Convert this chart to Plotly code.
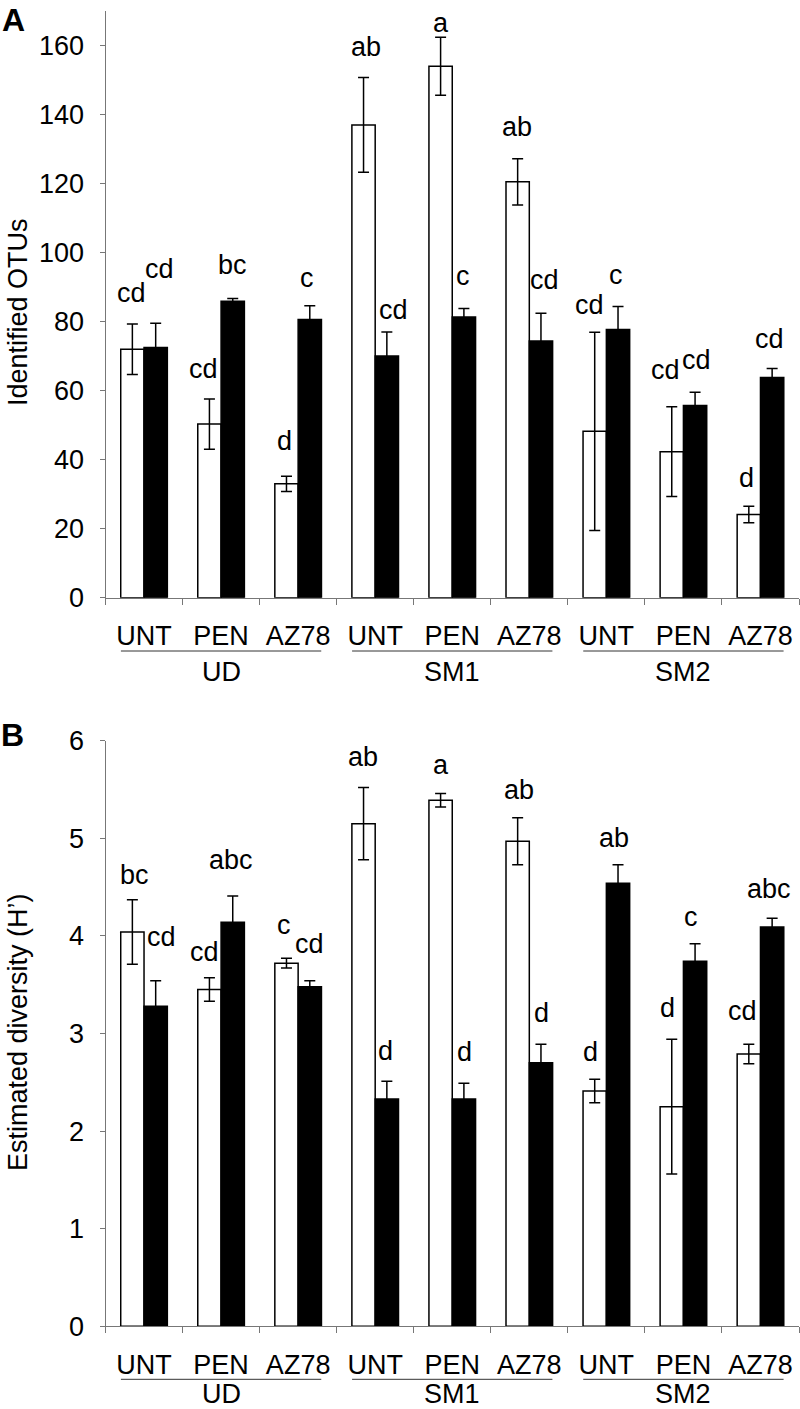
import plotly.graph_objects as go

# ---------------- data ----------------
treatments = ["UNT", "PEN", "AZ78", "UNT", "PEN", "AZ78", "UNT", "PEN", "AZ78"]
groups = ["UD", "SM1", "SM2"]

otus_white = [72.0, 50.3, 33.0, 137.0, 154.0, 120.5, 48.2, 42.3, 24.1]
otus_white_err = [7.3, 7.3, 2.2, 13.7, 8.4, 6.7, 28.7, 13.0, 2.4]
otus_black = [72.5, 85.9, 80.6, 70.0, 81.3, 74.4, 77.7, 55.7, 63.8]
otus_black_err = [7.0, 0.8, 4.0, 7.0, 2.5, 8.0, 6.7, 3.8, 2.6]

shannon_white = [4.04, 3.45, 3.72, 5.15, 5.39, 4.97, 2.41, 2.25, 2.79]
shannon_white_err = [0.33, 0.12, 0.05, 0.37, 0.07, 0.24, 0.12, 0.69, 0.10]
shannon_black = [3.28, 4.14, 3.48, 2.33, 2.33, 2.70, 4.54, 3.74, 4.09]
shannon_black_err = [0.26, 0.27, 0.06, 0.18, 0.16, 0.19, 0.19, 0.18, 0.09]

otus_letters_white = ["cd", "cd", "d", "ab", "a", "ab", "cd", "cd", "d"]
otus_letters_black = ["cd", "bc", "c", "cd", "c", "cd", "c", "cd", "cd"]
shannon_letters_white = ["bc", "cd", "c", "ab", "a", "ab", "d", "d", "cd"]
shannon_letters_black = ["cd", "abc", "cd", "d", "d", "d", "ab", "c", "abc"]

# ---------------- layout helpers (positions only) ----------------
xs = list(range(len(treatments)))
FONT = "Liberation Sans, Arial, Helvetica, sans-serif"
FS = 27

otus_lw_pos = ([-0.158, 0.771, 1.818, 2.877, 3.850, 4.836, 5.787, 6.768, 7.819],
               [88.2, 66.2, 45.4, 159.5, 166.5, 136.5, 84.7, 65.9, 34.6])
otus_lb_pos = ([0.200, 1.147, 2.120, 3.232, 4.143, 5.203, 6.124, 7.171, 8.121],
               [95.1, 96.5, 92.6, 83.3, 93.1, 92.0, 93.4, 68.8, 75.1])
sh_lw_pos = ([-0.124, 0.780, 1.818, 2.838, 3.850, 4.866, 5.800, 6.794, 7.762],
             [4.62, 3.83, 4.11, 5.83, 5.75, 5.50, 2.81, 3.26, 3.23])
sh_lb_pos = ([0.231, 1.126, 2.146, 3.137, 4.156, 5.160, 6.102, 7.097, 8.112],
             [3.99, 4.78, 3.92, 2.82, 2.81, 3.21, 5.00, 4.19, 4.48])

W, H = 800, 1409


def px(xp):
    return xp / W


def py(yp):
    return 1 - yp / H


x0, x1 = px(105.5), px(799)
domA = [py(597.7), py(11)]
domB = [py(1326.3), py(740.7)]

fig = go.Figure()


def add_pair(white, werr, black, berr, xa, ya):
    fig.add_trace(go.Bar(
        x=xs, y=white, xaxis=xa, yaxis=ya,
        marker=dict(color="white", line=dict(color="black", width=1.5)),
        error_y=dict(type="data", array=werr, color="black", thickness=1.5, width=5.5),
        showlegend=False))
    fig.add_trace(go.Bar(
        x=xs, y=black, xaxis=xa, yaxis=ya,
        marker=dict(color="black", line=dict(color="black", width=1.5)),
        error_y=dict(type="data", array=berr, color="black", thickness=1.5, width=5.5),
        showlegend=False))


add_pair(otus_white, otus_white_err, otus_black, otus_black_err, "x", "y")
add_pair(shannon_white, shannon_white_err, shannon_black, shannon_black_err, "x2", "y2")

boundaries = [i - 0.5 for i in range(len(treatments) + 1)]
xcommon = dict(
    range=[-0.5, len(treatments) - 0.5], tickmode="array", tickvals=xs, ticktext=treatments,
    ticks="", showline=True, linecolor="#777", linewidth=1, showgrid=False, zeroline=False,
    tickfont=dict(family=FONT, size=FS, color="black"), ticklabelstandoff=14,
    minor=dict(tickmode="array", tickvals=boundaries, ticks="outside", ticklen=6,
               tickcolor="#777", tickwidth=1, showgrid=False),
)
ycommon = dict(
    showline=True, linecolor="#777", linewidth=1, showgrid=False, zeroline=False,
    ticks="outside", ticklen=5, tickcolor="#777", tickwidth=1,
    tickfont=dict(family=FONT, size=FS, color="black"), ticklabelstandoff=10,
)

fig.update_layout(
    width=W, height=H, margin=dict(l=0, r=0, t=0, b=0, autoexpand=False),
    paper_bgcolor="white", plot_bgcolor="white",
    barmode="group", bargap=0.395, bargroupgap=0,
    xaxis=dict(domain=[x0, x1], anchor="y", **xcommon),
    yaxis=dict(domain=domA, anchor="x", range=[0, 170], tickvals=[0, 20, 40, 60, 80, 100, 120, 140, 160], **ycommon),
    xaxis2=dict(domain=[x0, x1], anchor="y2", **xcommon),
    yaxis2=dict(domain=domB, anchor="x2", range=[0, 6], tickvals=[0, 1, 2, 3, 4, 5, 6], **ycommon),
    font=dict(family=FONT, size=FS, color="black"),
)

ann = []
for (pxs, pys), letters, xr, yr in [
    (otus_lw_pos, otus_letters_white, "x", "y"),
    (otus_lb_pos, otus_letters_black, "x", "y"),
    (sh_lw_pos, shannon_letters_white, "x2", "y2"),
    (sh_lb_pos, shannon_letters_black, "x2", "y2"),
]:
    for lx, ly, t in zip(pxs, pys, letters):
        ann.append(dict(x=lx, y=ly, xref=xr, yref=yr, text=t, showarrow=False,
                        xanchor="center", yanchor="middle",
                        font=dict(family=FONT, size=FS, color="black")))

# group labels and underline shapes
shapes = []
for xr, line_y, lab_y in [("x", py(651), py(671.7)), ("x2", py(1379.3), py(1394))]:
    for gi, g in enumerate(groups):
        shapes.append(dict(type="line", xref=xr, yref="paper", x0=gi * 3 - 0.3, x1=gi * 3 + 2.3,
                           y0=line_y, y1=line_y, line=dict(color="#333", width=1)))
        ann.append(dict(x=gi * 3 + 1, y=lab_y, xref=xr, yref="paper", text=g, showarrow=False,
                        xanchor="center", yanchor="middle",
                        font=dict(family=FONT, size=FS, color="black")))

# axis titles
ann.append(dict(x=px(18), y=py(312), xref="paper", yref="paper", text="Identified OTUs",
                textangle=-90, showarrow=False, xanchor="center", yanchor="middle",
                font=dict(family=FONT, size=FS, color="black")))
ann.append(dict(x=px(18), y=py(1032), xref="paper", yref="paper", text="Estimated diversity (H’)",
                textangle=-90, showarrow=False, xanchor="center", yanchor="middle",
                font=dict(family=FONT, size=FS, color="black")))
# panel letters
ann.append(dict(x=px(13), y=1, xref="paper", yref="paper", text="<b>A</b>",
                showarrow=False, xanchor="center", yanchor="top",
                font=dict(family=FONT, size=32, color="black")))
ann.append(dict(x=px(12), y=py(735), xref="paper", yref="paper", text="<b>B</b>",
                showarrow=False, xanchor="center", yanchor="middle",
                font=dict(family=FONT, size=32, color="black")))

fig.update_layout(annotations=ann, shapes=shapes)
# remove the browser's default 8px body margin so the 800x1409 figure fills the window
fig.write_html("out.html", config={"displayModeBar": False},
               post_script="document.body.style.margin='0';")
